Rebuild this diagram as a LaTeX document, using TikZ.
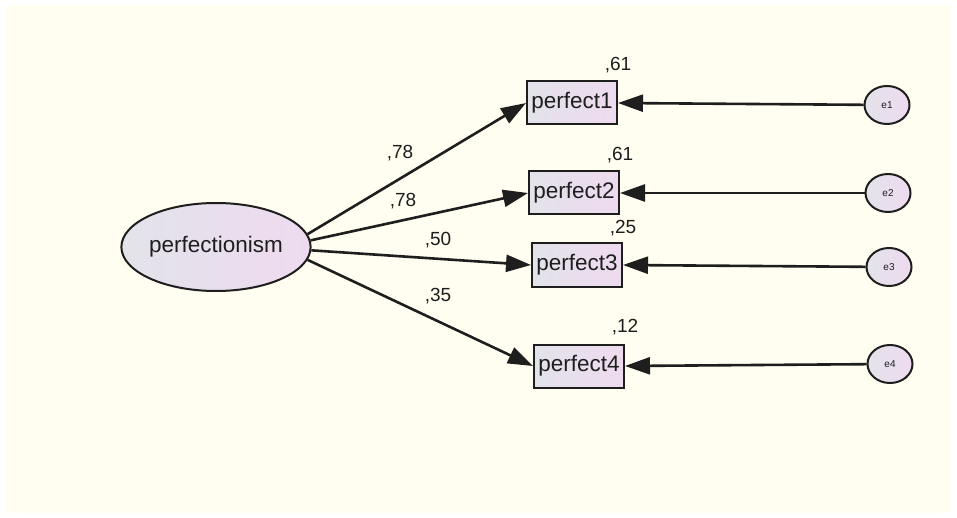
\documentclass[tikz,border=0pt]{standalone}
\usepackage{fontspec}
\setmainfont{Liberation Sans}
\usepackage{tikz}
\usetikzlibrary{positioning,arrows.meta,shapes.geometric}

\definecolor{paper}{HTML}{FFFEF0}
\definecolor{fillL}{HTML}{E3E3EA}
\definecolor{fillR}{HTML}{EEDAEF}
\definecolor{ink}{HTML}{1E1E1E}

\begin{document}
\begin{tikzpicture}[
    x=1pt, y=-1pt,
    font=\fontsize{22.5}{25}\selectfont,
    text=ink,
    latent/.style={draw=ink, line width=2pt, ellipse, left color=fillL, right color=fillR, minimum width=182pt, minimum height=88pt, inner sep=0pt},
    obs/.style={draw=ink, line width=2pt, rectangle, left color=fillL, right color=fillR, minimum width=90pt, minimum height=43pt, inner sep=0pt},
    err/.style={draw=ink, line width=2pt, ellipse, left color=fillL, right color=fillR, minimum width=45pt, minimum height=38pt, inner sep=0pt, font=\fontsize{10}{11}\selectfont},
    coef/.style={font=\fontsize{19}{21}\selectfont, inner sep=0pt},
    path/.style={draw=ink, line width=2.6pt, -{Triangle[length=25pt,width=17pt]}}
]

% page
\fill[white] (0,0) rectangle (957,518);
\fill[paper] (6,6) rectangle (951,513);

% Latent factor
\node (pfm) [latent] at (216,247) {perfectionism};

% Indicators
\node (p1) [obs] at (572,103) {perfect1};
\node (p2) [obs] at (574,193) {perfect2};
\node (p3) [obs] at (577,265) {perfect3};
\node (p4) [obs] at (579,366) {perfect4};

% Error terms
\node (e1) [err] at (887,105) {e1};
\node (e2) [err] at (888,193) {e2};
\node (e3) [err] at (889,267) {e3};
\node (e4) [err] at (890,364) {e4};

% Loadings
\draw[path] (pfm.8) -- (p1.west);
\draw[path] (pfm.4) -- (p2.west);
\draw[path] (pfm.-2) -- (p3.west);
\draw[path] (pfm.-8) -- (p4.west);

\node (l1) [coef] at (400,153) {,78};
\node (l2) [coef] at (403,201) {,78};
\node (l3) [coef] at (438,240) {,50};
\node (l4) [coef] at (438,296) {,35};

% Errors into indicators
\draw[path] (e1) -- (p1.east);
\draw[path] (e2) -- (p2.east);
\draw[path] (e3) -- (p3.east);
\draw[path] (e4) -- (p4.east);

% Squared multiple correlations
\node (r1) [coef, above=7pt of p1.north east] {,61};
\node (r2) [coef, above=7pt of p2.north east] {,61};
\node (r3) [coef, above=6pt of p3.north east] {,25};
\node (r4) [coef, above=8pt of p4.north east] {,12};

\end{tikzpicture}
\end{document}
